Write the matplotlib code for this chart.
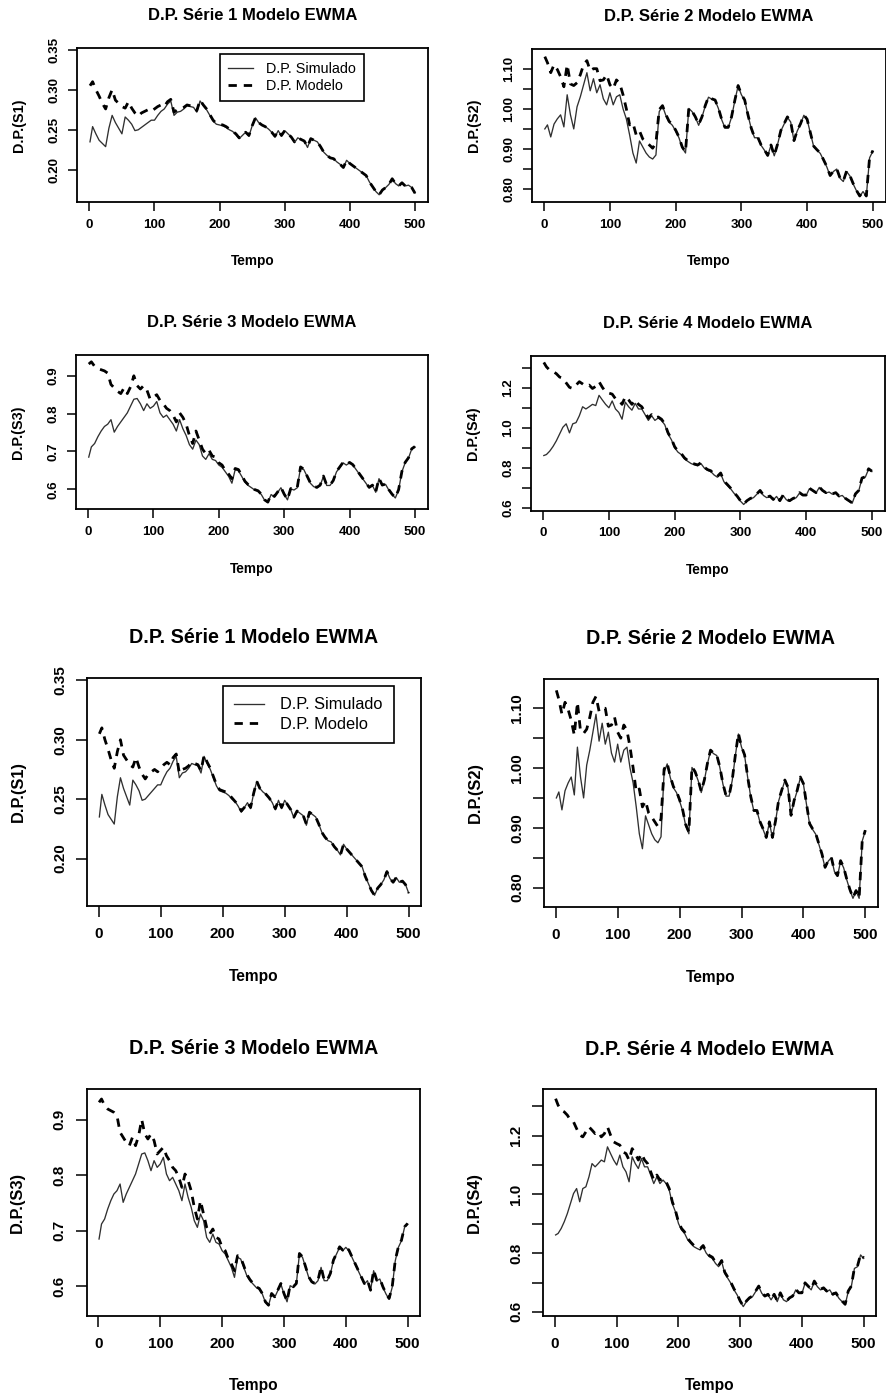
import numpy as np
import matplotlib
matplotlib.use("Agg")
import matplotlib.pyplot as plt

plt.rcParams['font.family'] = ['Liberation Sans', 'DejaVu Sans']

# ---------------- data (every 5 time steps) ----------------
tempo = np.r_[1, np.arange(5, 501, 5)]

sim1 = [0.235,
        0.254, 0.245, 0.237, 0.233, 0.229, 0.252, 0.268, 0.259, 0.252, 0.245,
        0.266, 0.262, 0.257, 0.249, 0.250, 0.253, 0.256, 0.259, 0.262, 0.262,
        0.268, 0.273, 0.276, 0.282, 0.286, 0.268, 0.272, 0.273, 0.276, 0.280,
        0.279, 0.278, 0.272, 0.286, 0.280, 0.275, 0.268, 0.261, 0.257, 0.256,
        0.255, 0.253, 0.250, 0.248, 0.244, 0.239, 0.243, 0.247, 0.242, 0.255,
        0.265, 0.259, 0.256, 0.254, 0.251, 0.247, 0.241, 0.249, 0.242, 0.249,
        0.245, 0.241, 0.234, 0.240, 0.238, 0.236, 0.228, 0.239, 0.237, 0.235,
        0.229, 0.222, 0.218, 0.215, 0.214, 0.210, 0.207, 0.203, 0.212, 0.208,
        0.205, 0.202, 0.199, 0.196, 0.193, 0.185, 0.179, 0.173, 0.169, 0.175,
        0.178, 0.182, 0.189, 0.183, 0.180, 0.184, 0.180, 0.181, 0.178, 0.171]
mod1 = [0.305,
        0.310, 0.300, 0.292, 0.283, 0.276, 0.290, 0.300, 0.287, 0.283, 0.279,
        0.277, 0.285, 0.277, 0.271, 0.267, 0.271, 0.273, 0.275, 0.273, 0.276,
        0.279, 0.281, 0.279, 0.285, 0.288, 0.272, 0.275, 0.276, 0.278, 0.281,
        0.280, 0.279, 0.274, 0.287, 0.281, 0.276, 0.269, 0.262, 0.258, 0.257,
        0.256, 0.254, 0.251, 0.248, 0.245, 0.240, 0.243, 0.247, 0.243, 0.255,
        0.265, 0.259, 0.256, 0.254, 0.251, 0.247, 0.242, 0.249, 0.243, 0.249,
        0.245, 0.241, 0.235, 0.240, 0.238, 0.236, 0.229, 0.239, 0.237, 0.235,
        0.229, 0.222, 0.218, 0.215, 0.214, 0.210, 0.207, 0.203, 0.212, 0.208,
        0.205, 0.202, 0.199, 0.196, 0.193, 0.185, 0.179, 0.173, 0.169, 0.175,
        0.178, 0.182, 0.189, 0.183, 0.180, 0.184, 0.180, 0.181, 0.178, 0.171]

sim2 = [0.950,
        0.960, 0.930, 0.962, 0.975, 0.985, 0.955, 1.035, 0.985, 0.950, 1.005,
        1.030, 1.060, 1.090, 1.045, 1.075, 1.040, 1.060, 1.025, 1.010, 1.040,
        1.010, 1.030, 1.035, 1.000, 0.975, 0.935, 0.890, 0.865, 0.920, 0.905,
        0.890, 0.880, 0.875, 0.885, 0.993, 1.007, 0.984, 0.967, 0.959, 0.945,
        0.928, 0.903, 0.890, 1.001, 0.993, 0.979, 0.959, 0.979, 1.007, 1.029,
        1.024, 1.021, 1.001, 0.973, 0.953, 0.953, 0.979, 1.020, 1.057, 1.035,
        1.021, 0.984, 0.951, 0.928, 0.928, 0.909, 0.897, 0.883, 0.909, 0.883,
        0.911, 0.945, 0.962, 0.979, 0.967, 0.920, 0.945, 0.962, 0.984, 0.973,
        0.939, 0.906, 0.897, 0.889, 0.872, 0.855, 0.833, 0.844, 0.850, 0.827,
        0.819, 0.844, 0.833, 0.813, 0.796, 0.782, 0.794, 0.782, 0.878, 0.895]
mod2 = [1.130,
        1.115, 1.090, 1.110, 1.098, 1.080, 1.055, 1.110, 1.062, 1.058, 1.065,
        1.085, 1.110, 1.120, 1.095, 1.100, 1.100, 1.070, 1.072, 1.085, 1.060,
        1.050, 1.072, 1.063, 1.035, 1.000, 0.960, 0.965, 0.935, 0.945, 0.925,
        0.918, 0.910, 0.902, 0.915, 0.998, 1.008, 0.986, 0.969, 0.961, 0.947,
        0.930, 0.905, 0.893, 1.002, 0.994, 0.980, 0.961, 0.980, 1.008, 1.030,
        1.025, 1.022, 1.002, 0.974, 0.954, 0.954, 0.980, 1.021, 1.058, 1.036,
        1.022, 0.985, 0.952, 0.929, 0.929, 0.910, 0.898, 0.884, 0.910, 0.884,
        0.912, 0.946, 0.963, 0.980, 0.968, 0.921, 0.946, 0.963, 0.985, 0.974,
        0.940, 0.907, 0.898, 0.890, 0.873, 0.856, 0.834, 0.845, 0.851, 0.828,
        0.820, 0.845, 0.834, 0.814, 0.797, 0.783, 0.795, 0.783, 0.879, 0.896]

sim3 = [0.685,
        0.712, 0.721, 0.739, 0.754, 0.766, 0.772, 0.784, 0.751, 0.766, 0.778,
        0.790, 0.802, 0.820, 0.838, 0.840, 0.826, 0.808, 0.826, 0.814, 0.820,
        0.832, 0.802, 0.790, 0.796, 0.784, 0.772, 0.754, 0.784, 0.760, 0.742,
        0.718, 0.706, 0.730, 0.718, 0.688, 0.679, 0.694, 0.679, 0.676, 0.664,
        0.658, 0.646, 0.634, 0.616, 0.652, 0.649, 0.634, 0.619, 0.610, 0.604,
        0.598, 0.595, 0.586, 0.571, 0.565, 0.586, 0.580, 0.592, 0.604, 0.586,
        0.572, 0.601, 0.598, 0.604, 0.658, 0.652, 0.634, 0.616, 0.607, 0.604,
        0.610, 0.634, 0.610, 0.610, 0.622, 0.646, 0.658, 0.670, 0.664, 0.670,
        0.664, 0.652, 0.640, 0.628, 0.616, 0.604, 0.610, 0.592, 0.628, 0.610,
        0.613, 0.598, 0.586, 0.577, 0.598, 0.646, 0.670, 0.682, 0.706, 0.712]
mod3 = [0.931,
        0.937, 0.925, 0.919, 0.916, 0.913, 0.907, 0.877, 0.868, 0.859, 0.853,
        0.868, 0.853, 0.871, 0.900, 0.874, 0.865, 0.874, 0.862, 0.838, 0.844,
        0.850, 0.835, 0.826, 0.814, 0.808, 0.796, 0.778, 0.802, 0.790, 0.772,
        0.742, 0.721, 0.754, 0.730, 0.706, 0.694, 0.703, 0.688, 0.685, 0.670,
        0.664, 0.649, 0.640, 0.628, 0.655, 0.652, 0.637, 0.621, 0.612, 0.605,
        0.599, 0.596, 0.587, 0.572, 0.566, 0.587, 0.581, 0.593, 0.605, 0.587,
        0.573, 0.602, 0.599, 0.605, 0.659, 0.653, 0.635, 0.617, 0.608, 0.605,
        0.611, 0.635, 0.611, 0.611, 0.623, 0.647, 0.659, 0.671, 0.665, 0.671,
        0.665, 0.653, 0.641, 0.629, 0.617, 0.605, 0.611, 0.593, 0.629, 0.611,
        0.614, 0.599, 0.587, 0.578, 0.599, 0.647, 0.671, 0.683, 0.707, 0.713]

sim4 = [0.862,
        0.867, 0.884, 0.907, 0.935, 0.969, 1.003, 1.020, 0.975, 1.020, 1.026,
        1.060, 1.105, 1.094, 1.105, 1.117, 1.111, 1.162, 1.139, 1.117, 1.100,
        1.134, 1.094, 1.077, 1.043, 1.128, 1.105, 1.088, 1.122, 1.094, 1.094,
        1.066, 1.037, 1.060, 1.037, 1.049, 1.037, 1.015, 0.969, 0.941, 0.901,
        0.879, 0.867, 0.845, 0.833, 0.822, 0.816, 0.811, 0.822, 0.800, 0.788,
        0.782, 0.765, 0.754, 0.771, 0.731, 0.714, 0.697, 0.675, 0.658, 0.635,
        0.618, 0.635, 0.646, 0.652, 0.669, 0.686, 0.663, 0.652, 0.658, 0.641,
        0.658, 0.635, 0.663, 0.641, 0.635, 0.646, 0.652, 0.675, 0.663, 0.663,
        0.697, 0.686, 0.675, 0.703, 0.686, 0.675, 0.680, 0.669, 0.675, 0.658,
        0.663, 0.646, 0.635, 0.624, 0.669, 0.686, 0.748, 0.754, 0.794, 0.782]
mod4 = [1.326,
        1.304, 1.287, 1.281, 1.270, 1.253, 1.247, 1.224, 1.202, 1.196, 1.213,
        1.230, 1.219, 1.207, 1.213, 1.196, 1.207, 1.230, 1.202, 1.179, 1.173,
        1.168, 1.145, 1.139, 1.117, 1.156, 1.139, 1.117, 1.139, 1.117, 1.105,
        1.077, 1.049, 1.066, 1.049, 1.054, 1.043, 1.020, 0.975, 0.946, 0.906,
        0.884, 0.872, 0.850, 0.837, 0.826, 0.820, 0.815, 0.826, 0.804, 0.792,
        0.786, 0.769, 0.758, 0.775, 0.735, 0.718, 0.700, 0.678, 0.660, 0.637,
        0.620, 0.637, 0.648, 0.654, 0.671, 0.688, 0.665, 0.654, 0.660, 0.643,
        0.660, 0.637, 0.665, 0.643, 0.637, 0.648, 0.654, 0.677, 0.665, 0.665,
        0.699, 0.688, 0.677, 0.705, 0.688, 0.677, 0.682, 0.671, 0.677, 0.660,
        0.665, 0.648, 0.637, 0.626, 0.671, 0.688, 0.750, 0.756, 0.796, 0.784]

titles = ["D.P. Série 1 Modelo EWMA", "D.P. Série 2 Modelo EWMA",
          "D.P. Série 3 Modelo EWMA", "D.P. Série 4 Modelo EWMA"]
ylabels = ["D.P.(S1)", "D.P.(S2)", "D.P.(S3)", "D.P.(S4)"]
xlabel = "Tempo"
legend_labels = ["D.P. Simulado", "D.P. Modelo"]
xticks = [0, 100, 200, 300, 400, 500]
yticks = [[0.20, 0.25, 0.30, 0.35],
          [0.80, 0.85, 0.90, 0.95, 1.00, 1.05, 1.10],
          [0.6, 0.7, 0.8, 0.9],
          [0.6, 0.7, 0.8, 0.9, 1.0, 1.1, 1.2, 1.3]]
yticklabels = [["0.20", "0.25", "0.30", "0.35"],
               ["0.80", "", "0.90", "", "1.00", "", "1.10"],
               ["0.6", "0.7", "0.8", "0.9"],
               ["0.6", "", "0.8", "", "1.0", "", "1.2", ""]]
ylims = [(0.160, 0.352), (0.768, 1.149), (0.547, 0.955), (0.587, 1.358)]
legend_pos = (200, 0.345)

sims = [sim1, sim2, sim3, sim4]
mods = [mod1, mod2, mod3, mod4]

# ---------------- figure ----------------
W, H = 887, 1398
fig = plt.figure(figsize=(W / 100, H / 100), dpi=100)


def rect(x0, y0, x1, y1):
    return [x0 / W, 1 - y1 / H, (x1 - x0) / W, (y1 - y0) / H]


small_rects = [rect(77, 48, 428, 202), rect(531.7, 49, 886, 202),
               rect(75.7, 355, 428, 509.3), rect(530.7, 356, 885, 510.7)]
big_rects = [rect(87, 678, 421, 906), rect(544, 679, 877.7, 906.7),
             rect(86.7, 1089, 420, 1315.7), rect(543.3, 1089.3, 876, 1315.7)]

styles = {
    'small': dict(title=12.0, tick=9.6, xlab=9.8, ylab=10.4, leg=10.4, ticklen=6.5,
                  xpad=5.4, ypad=5.2, title_y=1.213, xlab_y=-0.385,
                  ylab_px=58, borderpad=0.55, labelspacing=0.22,
                  handlelength=1.75, handletextpad=0.9),
    'big': dict(title=14.2, tick=11.0, xlab=11.2, ylab=11.8, leg=11.8, ticklen=7.9,
                xpad=7.2, ypad=6.4, title_y=1.178, xlab_y=-0.31,
                ylab_px=69, borderpad=0.68, labelspacing=0.28,
                handlelength=1.85, handletextpad=0.98),
}


def draw(ax, i, st):
    x_lo = tempo[0] - 0.04 * (tempo[-1] - tempo[0])
    x_hi = tempo[-1] + 0.04 * (tempo[-1] - tempo[0])
    l1, = ax.plot(tempo, sims[i], color='#303030', lw=0.95)
    l2, = ax.plot(tempo, mods[i], color='black', lw=2.0, linestyle=(0, (3, 2.5)))
    ax.set_xlim(x_lo, x_hi)
    ax.set_ylim(*ylims[i])
    ax.set_xticks(xticks)
    ax.set_xticklabels([str(v) for v in xticks])
    ax.set_yticks(yticks[i])
    ax.set_yticklabels(yticklabels[i])
    for sp in ax.spines.values():
        sp.set_linewidth(1.3)
        sp.set_color('black')
    ax.tick_params(axis='both', direction='out', length=st['ticklen'], width=1.1,
                   labelsize=st['tick'], colors='black')
    ax.tick_params(axis='x', pad=st['xpad'])
    ax.tick_params(axis='y', pad=st['ypad'], labelrotation=90)
    for lab in ax.get_yticklabels():
        lab.set_verticalalignment('center')
        lab.set_fontweight('bold')
    for lab in ax.get_xticklabels():
        lab.set_fontweight('bold')
    ax.set_title(titles[i], fontsize=st['title'], fontweight='bold',
                 y=st['title_y'], pad=0, va='center')
    ax.set_xlabel(xlabel, fontsize=st['xlab'], fontweight='bold')
    ax.xaxis.set_label_coords(0.5, st['xlab_y'])
    ax.xaxis.label.set_verticalalignment('center')
    ax.set_ylabel(ylabels[i], fontsize=st['ylab'], fontweight='bold')
    bbox = ax.get_position()
    ax.yaxis.set_label_coords(-st['ylab_px'] / (bbox.width * W), 0.5)
    ax.yaxis.label.set_verticalalignment('center')
    if i == 0:
        leg = ax.legend([l1, l2], legend_labels, loc='upper left',
                        bbox_to_anchor=legend_pos, bbox_transform=ax.transData,
                        borderaxespad=0, fancybox=False, framealpha=1,
                        edgecolor='black', fontsize=st['leg'],
                        borderpad=st['borderpad'], labelspacing=st['labelspacing'],
                        handlelength=st['handlelength'],
                        handletextpad=st['handletextpad'])
        leg.get_frame().set_linewidth(1.2)


for i, r in enumerate(small_rects):
    ax = fig.add_axes(r)
    draw(ax, i, styles['small'])
for i, r in enumerate(big_rects):
    ax = fig.add_axes(r)
    draw(ax, i, styles['big'])

fig.savefig("out.png", dpi=100)
